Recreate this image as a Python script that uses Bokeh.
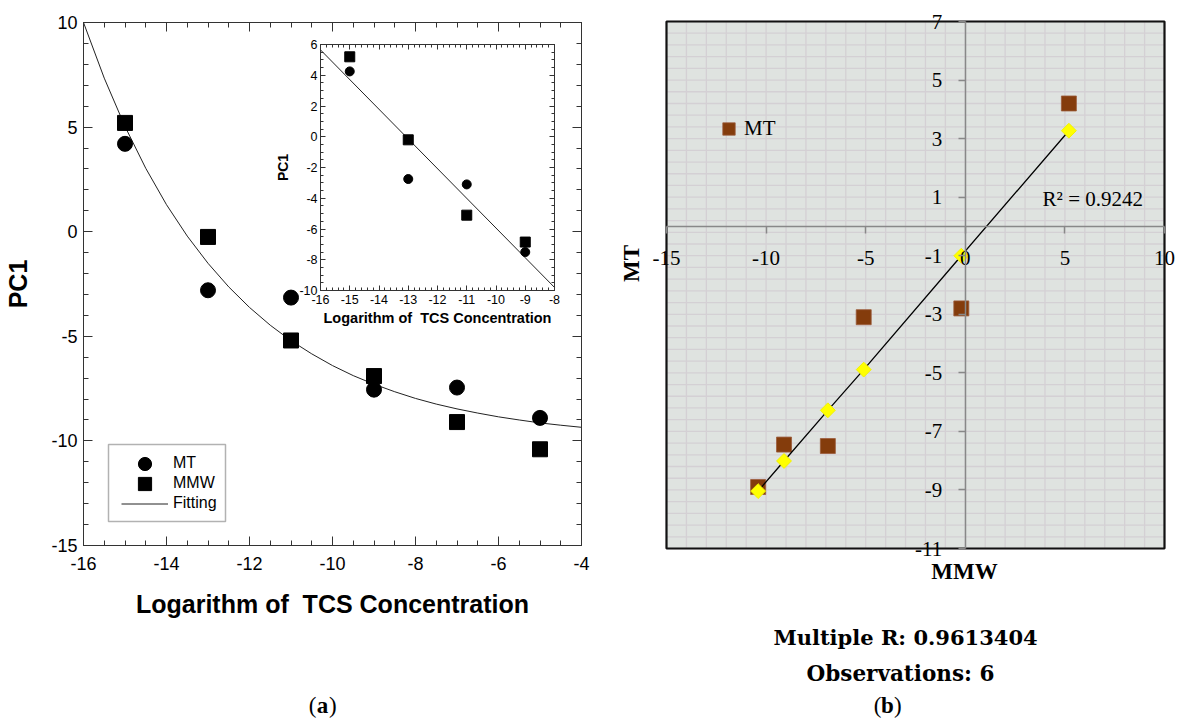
import numpy as np
from bokeh.plotting import figure
from bokeh.models import (LinearAxis, Range1d, FixedTicker, Legend, LegendItem,
                          Label, BoxAnnotation)
from bokeh.core.properties import value
from bokeh.embed import file_html
from bokeh.resources import INLINE

# ---------------- data: panel (a) ----------------
log_conc = [-15, -13, -11, -9, -7, -5]
pc1_mt = [4.2, -2.8, -3.15, -7.55, -7.45, -8.9]
pc1_mmw = [5.2, -0.25, -5.2, -6.9, -9.1, -10.4]
fit_x = [-16, -15.5, -15, -14.5, -14, -13.5, -13, -12.5, -12, -11.5, -11, -10.5,
         -10, -9.5, -9, -8.5, -8, -7.5, -7, -6.5, -6, -5.5, -5, -4.5, -4]
fit_y = [10.0, 7.34, 5.03, 3.03, 1.29, -0.21, -1.51, -2.64, -3.62, -4.47, -5.21,
         -5.84, -6.40, -6.88, -7.29, -7.65, -7.97, -8.24, -8.47, -8.67, -8.85,
         -9.00, -9.14, -9.25, -9.35]
inset_x = [-15, -13, -11, -9]
inset_mt = [4.25, -2.75, -3.1, -7.5]
inset_mmw = [5.2, -0.2, -5.1, -6.85]
inset_fit_x = [-16, -8]
inset_fit_y = [5.65, -9.8]
x_title = "Logarithm of \u00a0TCS Concentration"

# ---------------- data: panel (b) ----------------
mmw_b = [5.2, -0.2, -5.1, -6.9, -9.1, -10.4]
mt_b = [4.2, -2.8, -3.1, -7.5, -7.45, -8.9]
mt_pred = [3.27, -1.0, -4.89, -6.28, -8.01, -9.04]
b_yticks = [-11, -9, -7, -5, -3, -1, 1, 3, 5, 7]
b_ylabels = ["-11", "-9", "-7", "-5", "-3", "-1", "1", "3", "5", "7"]
r2_text = "R\u00b2 = 0.9242"
multiple_r = "Multiple R: 0.9613404"
observations = "Observations: 6"

# axis extents (data units)
A_X, A_Y = (-16, -4), (-15, 10)
I_X, I_Y = (-16, -8), (-10, 6)
B_X, B_Y = (-15, 10), (-11, 7)

SANS = "Liberation Sans"
SERIF = "Liberation Serif"
BSERIF = "DejaVu Serif"
AX = "#333333"
W, H = 1179, 722

# page-pixel boxes of each plotting area (left, right, top, bottom)
BOX_A = (83, 581, 22, 545)
BOX_I = (320, 554, 44, 290)
BOX_B = (666, 1164, 21, 548)


def xr(ext, box):
    d0, d1 = ext
    p0, p1 = box[0], box[1]
    s = (p1 - p0) / (d1 - d0)
    return Range1d(d0 - p0 / s, d1 + (W - p1) / s)


def yr(ext, box):
    bot, top = ext
    pt, pb = box[2], box[3]
    s = (pb - pt) / (top - bot)
    return Range1d(bot - (H - pb) / s, top + pt / s)


p = figure(width=W, height=H, min_border=0, x_range=Range1d(0, W), y_range=Range1d(H, 0),
           x_axis_location=None, y_axis_location=None,
           output_backend="svg", toolbar_location=None)
p.xgrid.visible = False
p.ygrid.visible = False
p.outline_line_color = None
p.background_fill_color = "white"
p.border_fill_color = "white"
p.extra_x_ranges = {"ax": xr(A_X, BOX_A), "ix": xr(I_X, BOX_I), "bx": xr(B_X, BOX_B)}
p.extra_y_ranges = {"ay": yr(A_Y, BOX_A), "iy": yr(I_Y, BOX_I), "by": yr(B_Y, BOX_B)}


def hy(ticks):
    return {t: ("%g" % t) for t in ticks}


def axis(side, ticker, loc, bounds, rx, ry, fs, tin, tmin, labels=True,
         title=None, tfs="25px", font=SANS):
    ax = LinearAxis(ticker=ticker, fixed_location=loc, bounds=bounds,
                    x_range_name=rx, y_range_name=ry)
    ax.major_tick_in = tin
    ax.major_tick_out = 0
    ax.minor_tick_in = tmin
    ax.minor_tick_out = 0
    ax.axis_line_color = AX
    ax.major_tick_line_color = AX
    ax.minor_tick_line_color = AX
    ax.major_label_text_font = font
    ax.major_label_text_font_size = fs
    if labels:
        ax.major_label_text_color = "black"
        ax.major_label_overrides = hy(ticker.ticks)
    else:
        ax.major_label_text_color = None
    if title:
        ax.axis_label = title
        ax.axis_label_text_font = font
        ax.axis_label_text_font_style = "bold"
        ax.axis_label_text_color = "black"
        ax.axis_label_text_font_size = tfs
    p.add_layout(ax, side)
    return ax


# ================= panel (a) main =================
xt_main = FixedTicker(ticks=list(range(-16, -3, 2)),
                      minor_ticks=list(np.arange(-16, -3.9, 0.5)))
yt_main = FixedTicker(ticks=list(range(-15, 11, 5)),
                      minor_ticks=list(range(-15, 11, 1)))
xb = axis("below", xt_main, A_Y[0], A_X, "ax", "ay", "18px", 9, 5, title=x_title)
xb.major_label_standoff = 11
xb.axis_label_standoff = 17
yl = axis("left", yt_main, A_X[0], A_Y, "ax", "ay", "18px", 9, 5, title="PC1")
yl.major_label_standoff = 6
yl.axis_label_standoff = 16
axis("above", xt_main, A_Y[1], A_X, "ax", "ay", "18px", 9, 5, labels=False)
axis("right", yt_main, A_X[1], A_Y, "ax", "ay", "18px", 9, 5, labels=False)

r_fit = p.line(fit_x, fit_y, line_color="#222222", line_width=1,
               x_range_name="ax", y_range_name="ay")
r_mt = p.scatter(log_conc, pc1_mt, marker="circle", size=15, color="black",
                 x_range_name="ax", y_range_name="ay")
r_mmw = p.scatter(log_conc, pc1_mmw, marker="square", size=15, color="black",
                  x_range_name="ax", y_range_name="ay")

# legend frame + one legend per entry (so that symbols keep their size)
p.add_layout(BoxAnnotation(left=108, right=225, top=444, bottom=521,
                           fill_color="white", fill_alpha=1,
                           line_color="black", line_width=1.5, level="annotation"))
for lab, rend, ycen in (("MT", r_mt, 463), ("MMW", r_mmw, 483), ("Fitting", r_fit, 503)):
    lg = Legend(items=[LegendItem(label=lab, renderers=[rend])],
                location=(121, H - (ycen + 16.5)), padding=0, spacing=0, margin=0,
                glyph_width=47, glyph_height=33, label_height=33, label_standoff=5,
                border_line_alpha=0, background_fill_alpha=0,
                label_text_font=SANS, label_text_font_size="16px",
                label_text_color="black")
    p.add_layout(lg)

# ================= inset =================
xt_in = FixedTicker(ticks=list(range(-16, -7)),
                    minor_ticks=list(np.arange(-16, -7.9, 0.2)))
yt_in = FixedTicker(ticks=list(range(-10, 7, 2)),
                    minor_ticks=list(np.arange(-10, 6.1, 0.5)))
ixb = axis("below", xt_in, I_Y[0], I_X, "ix", "iy", "12.5px", 5, 3,
           title=x_title, tfs="14.5px")
ixb.major_label_standoff = 4
ixb.axis_label_standoff = 3
iyl = axis("left", yt_in, I_X[0], I_Y, "ix", "iy", "12.5px", 5, 3,
           title="PC1", tfs="14px")
iyl.major_label_standoff = 3
iyl.axis_label_standoff = 5
axis("above", xt_in, I_Y[1], I_X, "ix", "iy", "12px", 5, 3, labels=False)
axis("right", yt_in, I_X[1], I_Y, "ix", "iy", "12px", 5, 3, labels=False)

p.line(inset_fit_x, inset_fit_y, line_color="#222222", line_width=1,
       x_range_name="ix", y_range_name="iy")
p.scatter(inset_x, inset_mt, marker="circle", size=9, color="black",
          x_range_name="ix", y_range_name="iy")
p.scatter(inset_x, inset_mmw, marker="square", size=10, color="black",
          x_range_name="ix", y_range_name="iy")


def caption(cx, cy, letter):
    p.add_layout(Label(x=cx - 6, y=cy, text="(", text_align="right",
                       text_baseline="middle", text_font=SERIF, text_font_size="23px",
                       text_color="black"))
    p.add_layout(Label(x=cx, y=cy, text=letter, text_align="center",
                       text_baseline="middle", text_font=SERIF, text_font_size="23px",
                       text_font_style="bold", text_color="black"))
    p.add_layout(Label(x=cx + 6.5, y=cy, text=")", text_align="left",
                       text_baseline="middle", text_font=SERIF, text_font_size="23px",
                       text_color="black"))


caption(322, 705, "a")

# ================= panel (b) =================
GRID = "#d4d0d4"
p.quad(left=[B_X[0]], right=[B_X[1]], bottom=[B_Y[0]], top=[B_Y[1]],
       fill_color="#dfe3e0", line_color=None, level="underlay",
       x_range_name="bx", y_range_name="by")
gx_ticks = list(range(B_X[0], B_X[1] + 1, 1))
gy_ticks = list(np.arange(B_Y[0], B_Y[1] + 0.01, 0.4))
p.segment(x0=gx_ticks, x1=gx_ticks, y0=[B_Y[0]] * len(gx_ticks), y1=[B_Y[1]] * len(gx_ticks),
          line_color=GRID, line_width=1.3, level="underlay",
          x_range_name="bx", y_range_name="by")
p.segment(x0=[B_X[0]] * len(gy_ticks), x1=[B_X[1]] * len(gy_ticks), y0=gy_ticks, y1=gy_ticks,
          line_color=GRID, line_width=1.3, level="underlay",
          x_range_name="bx", y_range_name="by")

bx_t = FixedTicker(ticks=list(range(-15, 11, 5)))
by_t = FixedTicker(ticks=b_yticks)
bxa = LinearAxis(ticker=bx_t, fixed_location=0, bounds=B_X, x_range_name="bx", y_range_name="by")
bya = LinearAxis(ticker=by_t, fixed_location=0, bounds=B_Y, x_range_name="bx", y_range_name="by")
for ax in (bxa, bya):
    ax.axis_line_color = "#888888"
    ax.axis_line_width = 1.5
    ax.major_tick_line_color = "#888888"
    ax.major_tick_line_width = 1.5
    ax.major_tick_in = 0
    ax.major_tick_out = 7
    ax.minor_tick_in = 0
    ax.minor_tick_out = 0
    ax.major_label_text_font = SERIF
    ax.major_label_text_font_size = "21px"
bxa.major_label_text_color = "black"
bxa.major_label_overrides = hy(bx_t.ticks)
bxa.major_label_standoff = 18
bya.major_label_text_color = None
p.add_layout(bxa, "below")
p.add_layout(bya, "left")

# y tick labels of panel (b), placed left of the crossing axis
p.text(x=[0] * len(b_yticks), y=b_yticks, text=b_ylabels, x_offset=-23,
       text_align="right", text_baseline="middle", text_font=value(SERIF),
       text_font_size="21px", text_color="black", level="guide",
       x_range_name="bx", y_range_name="by")

r_sq = p.scatter(mmw_b, mt_b, marker="square", size=15, fill_color="#843c0c",
                 line_color="#9a5a3a", line_width=0.8, x_range_name="bx", y_range_name="by")
p.line(mmw_b, mt_pred, line_color="black", line_width=1.3,
       x_range_name="bx", y_range_name="by")
p.scatter(mmw_b, mt_pred, marker="square", angle=np.pi / 4, size=10.5,
          fill_color="#ffff00", line_color="#f2f200", line_width=1,
          x_range_name="bx", y_range_name="by")
p.quad(left=[B_X[0]], right=[B_X[1]], bottom=[B_Y[0]], top=[B_Y[1]],
       fill_color=None, line_color="#111111", line_width=2.2,
       x_range_name="bx", y_range_name="by")

legb = Legend(items=[LegendItem(label="MT", renderers=[r_sq])],
              location=(713, H - (128 + 15.5)), padding=0, margin=0, spacing=0,
              glyph_width=31, glyph_height=31, label_height=31, label_standoff=0,
              border_line_alpha=0, background_fill_alpha=0,
              label_text_font=SERIF, label_text_font_size="21px",
              label_text_color="black")
p.add_layout(legb)

p.add_layout(Label(x=3.88, y=0.95, text=r2_text, text_align="left",
                   text_baseline="middle", text_font=SERIF, text_font_size="21px",
                   text_color="black", x_range_name="bx", y_range_name="by"))

p.add_layout(Label(x=631, y=263, text="MT", angle=np.pi / 2, text_align="center",
                   text_baseline="middle", text_font=SERIF, text_font_size="23px",
                   text_font_style="bold", text_color="black"))
p.add_layout(Label(x=964, y=571, text="MMW", text_align="center", text_baseline="middle",
                   text_font=SERIF, text_font_size="23px", text_font_style="bold",
                   text_color="black"))
p.add_layout(Label(x=905, y=637, text=multiple_r, text_align="center",
                   text_baseline="middle", text_font=BSERIF, text_font_size="21px",
                   text_font_style="bold", text_color="black"))
p.add_layout(Label(x=900, y=673, text=observations, text_align="center",
                   text_baseline="middle", text_font=BSERIF, text_font_size="21.5px",
                   text_font_style="bold", text_color="black"))
caption(887, 705, "b")

open("out.html", "w").write(file_html(p, INLINE))
